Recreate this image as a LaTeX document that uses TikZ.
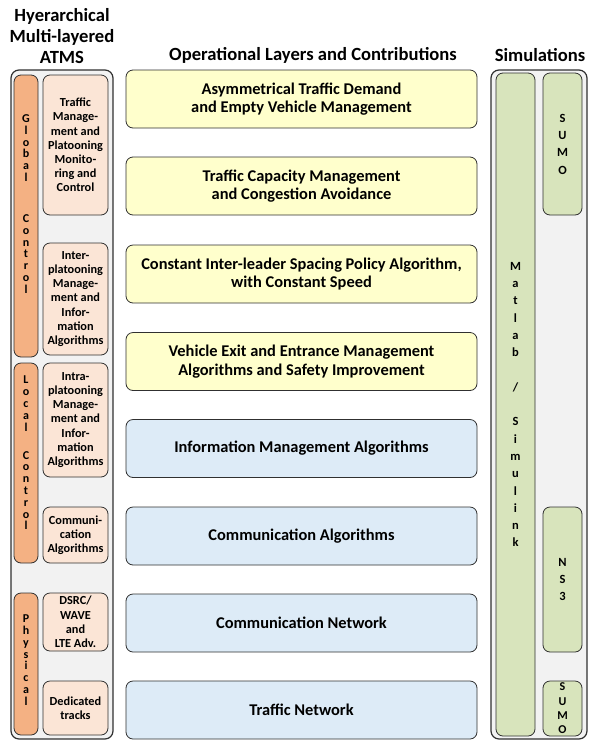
\documentclass[tikz,border=0pt]{standalone}
\usepackage{fontspec}
\setmainfont{Carlito}
\definecolor{panelgray}{HTML}{F2F2F2}
\definecolor{barorange}{HTML}{F4B183}
\definecolor{paleorange}{HTML}{FBE5D6}
\definecolor{paleyellow}{HTML}{FFFFCC}
\definecolor{paleblue}{HTML}{DDEBF7}
\definecolor{palegreen}{HTML}{D8E4BC}
\definecolor{edge}{HTML}{303030}
\tikzset{
  panel/.style={draw=edge, line width=1.2pt, fill=panelgray, rounded corners=8pt, inner sep=0pt},
  box/.style={draw=edge, line width=0.8pt, rounded corners=7pt, inner sep=0pt, align=center,
    font=\bfseries\fontsize{16.4}{18.7}\selectfont},
  ybox/.style={box, fill=paleyellow, minimum width=351pt, minimum height=58pt},
  bbox/.style={box, fill=paleblue, minimum width=351pt, minimum height=58pt},
  obar/.style={box, fill=barorange, minimum width=24pt, rounded corners=7pt},
  vtext/.style={inner sep=0pt, align=center, font=\bfseries\fontsize{12}{11.8}\selectfont},
  obox/.style={box, fill=paleorange, minimum width=65pt, rounded corners=7pt,
    font=\bfseries\fontsize{12.3}{14.2}\selectfont},
  gbar/.style={box, fill=palegreen, minimum width=39pt, rounded corners=7pt,
    font=\bfseries\fontsize{12.5}{17.3}\selectfont},
  title/.style={inner sep=0pt, align=center, font=\bfseries\fontsize{18.6}{20.7}\selectfont},
}
\begin{document}
\begin{tikzpicture}[x=1pt, y=-1pt]
\useasboundingbox (0,0) rectangle (596,740);

% column headings
\node[title] (thier) at (62,36) {Hyerarchical\\Multi-layered\\ATMS};
\node[title] (tops) at (313,55) {Operational Layers and Contributions};
\node[title] (tsim) at (540,55) {Simulations};

% left panel: control levels and their functions
\node[panel, minimum width=102pt, minimum height=669pt] (lpanel) at (62,404.5) {};
\node[obar, minimum height=282pt] (global) at (26,216) {};
\node[obar, minimum height=200pt] (local) at (26,463) {};
\node[obar, minimum height=142pt] (phys) at (26,664) {};
\node[vtext] (globaltxt) at (26,204)
  {G\\l\\o\\b\\a\\l\\[29.2pt]C\\o\\n\\t\\r\\o\\l};
\node[vtext] (localtxt) at (26,453)
  {L\\o\\c\\a\\l\\[16.2pt]C\\o\\n\\t\\r\\o\\l};
\node[vtext] (phystxt) at (26,660)
  {P\\h\\y\\s\\i\\c\\a\\l};

\node[obox, minimum height=140pt] (f1) at (75.5,145)
  {Traffic\\Manage-\\ment and\\Platooning\\Monito-\\ring and\\Control};
\node[obox, minimum height=112pt] (f2) at (75.5,299)
  {Inter-\\platooning\\Manage-\\ment and\\Infor-\\mation\\Algorithms};
\node[obox, minimum height=114pt] (f3) at (75.5,420)
  {Intra-\\platooning\\Manage-\\ment and\\Infor-\\mation\\Algorithms};
\node[obox, minimum height=56pt] (f4) at (75.5,535)
  {Communi-\\cation\\Algorithms};
\node[obox, minimum height=58pt] (f5) at (75.5,622)
  {DSRC/\\WAVE\\and\\LTE Adv.};
\node[obox, minimum height=54pt] (f6) at (75.5,708)
  {Dedicated\\tracks};

% middle column: operational layers
\node[ybox] (l1) at (301.5,99)    {Asymmetrical Traffic Demand\\and Empty Vehicle Management};
\node[ybox] (l2) at (301.5,186)   {Traffic Capacity Management\\and Congestion Avoidance};
\node[ybox] (l3) at (301.5,274)   {Constant Inter-leader Spacing Policy Algorithm,\\with Constant Speed};
\node[ybox] (l4) at (301.5,361.5) {Vehicle Exit and Entrance Management\\Algorithms and Safety Improvement};
\node[bbox] (l5) at (301.5,448.5) {Information Management Algorithms};
\node[bbox] (l6) at (301.5,536)   {Communication Algorithms};
\node[bbox] (l7) at (301.5,623)   {Communication Network};
\node[bbox] (l8) at (301.5,710)   {Traffic Network};

% right panel: simulation tools
\node[panel, minimum width=96pt, minimum height=669pt] (rpanel) at (539,404.5) {};
\node[gbar, minimum height=663pt] (matlab) at (515.5,404.5)
  {M\\a\\t\\l\\a\\b\\[17.3pt]/\\[17.3pt]S\\i\\m\\u\\l\\i\\n\\k};
\node[gbar, minimum height=142pt] (sumo1) at (562.5,144) {S\\U\\M\\O};
\node[gbar, minimum height=145pt] (ns3) at (562.5,579.5) {N\\S\\3};
\node[gbar, minimum height=55pt, font=\bfseries\fontsize{12}{14.3}\selectfont] (sumo2) at (562.5,708.5) {S\\U\\M\\O};
\end{tikzpicture}
\end{document}
